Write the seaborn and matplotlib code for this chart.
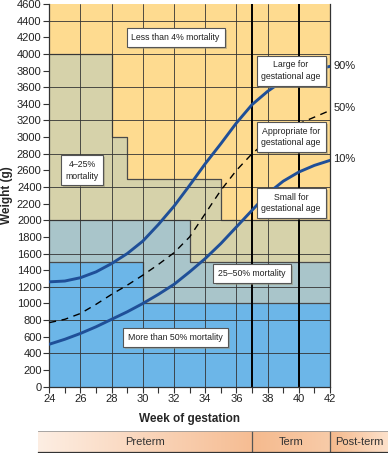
import numpy as np
import pandas as pd
import matplotlib
matplotlib.use('Agg')
import matplotlib.pyplot as plt
import matplotlib.patheffects as pe
import seaborn as sns
from matplotlib.colors import LinearSegmentedColormap

sns.set_style('white')
plt.rcParams['font.family'] = ['Liberation Sans Narrow', 'Liberation Sans', 'DejaVu Sans']

# growth percentiles, weight (g) by week of gestation
weeks = [24, 25, 26, 27, 28, 29, 30, 31, 32, 33, 34, 35, 36, 37, 38, 39, 40, 41, 42]
p90 = [1260, 1270, 1310, 1380, 1480, 1600, 1750, 1950, 2170, 2420, 2680, 2920, 3170, 3390, 3550, 3680, 3760, 3810, 3850]
p50 = [770, 810, 880, 990, 1110, 1220, 1340, 1470, 1610, 1800, 2080, 2360, 2600, 2800, 2960, 3080, 3160, 3240, 3320]
p10 = [510, 570, 640, 720, 810, 900, 1000, 1110, 1230, 1380, 1540, 1720, 1920, 2120, 2320, 2470, 2580, 2660, 2720]

# mortality zones (upper boundary, stepped)
tan_weeks = [24, 28, 29, 35, 42]
tan_top = [4000, 3000, 2500, 2000, 2000]
grey_weeks = [24, 33, 42]
grey_top = [2000, 1500, 1500]
blue_weeks = [24, 30, 42]
blue_top = [1500, 1000, 1000]

zone_labels = ['Less than 4% mortality', '4\u201325%\nmortality',
               '25\u201350% mortality', 'More than 50% mortality']
zone_pos = [(32.1, 4200), (26.1, 2600), (37.0, 1360), (32.1, 590)]
size_labels = ['Large for\ngestational age', 'Appropriate for\ngestational age',
               'Small for\ngestational age']
size_pos = [(39.5, 3800), (39.5, 3000), (39.5, 2210)]
pct_labels = ['90%', '50%', '10%']
pct_y = [3850, 3350, 2735]

terms = ['Preterm', 'Term', 'Post-term']
term_edges = [23.27, 37, 42, 45.73]

curves = pd.DataFrame({'week': weeks * 3,
                       'weight': p90 + p50 + p10,
                       'pct': ['90'] * 19 + ['50'] * 19 + ['10'] * 19})

fig = plt.figure(figsize=(3.88, 4.53), dpi=100)
ax = fig.add_axes([0.127, 0.1464, 0.7235, 0.8448])

yellow = '#fedb90'
tan = '#d6d2aa'
grey = '#a9c5ca'
blue = '#6cb6e8'
edge = '#4a4a4a'

ax.set_facecolor(yellow)
ax.fill_between(tan_weeks, 0, tan_top, step='post', color=tan, lw=0, zorder=1)
ax.fill_between(grey_weeks, 0, grey_top, step='post', color=grey, lw=0, zorder=1.1)
ax.fill_between(blue_weeks, 0, blue_top, step='post', color=blue, lw=0, zorder=1.2)
for wx, top in [(tan_weeks, tan_top), (grey_weeks, grey_top), (blue_weeks, blue_top)]:
    ax.step(wx, top, where='post', color=edge, lw=0.9, zorder=2)

for gx in range(26, 42, 2):
    ax.axvline(gx, color='#333333', lw=0.6, zorder=2)
for gy in range(400, 4600, 400):
    ax.axhline(gy, color='#333333', lw=0.6, zorder=2)
for gx in [37, 40]:
    ax.axvline(gx, color='black', lw=1.4, zorder=2.5)

curve_blue = '#1f4f98'
sns.lineplot(data=curves[curves.pct == '90'], x='week', y='weight', color=curve_blue,
             lw=2.1, ax=ax, zorder=3)
sns.lineplot(data=curves[curves.pct == '10'], x='week', y='weight', color=curve_blue,
             lw=2.1, ax=ax, zorder=3)
sns.lineplot(data=curves[curves.pct == '50'], x='week', y='weight', color='black',
             lw=1.0, dashes=(5, 4), ax=ax, zorder=3)

# label boxes with a soft drop shadow
box = dict(boxstyle='square,pad=0.55', fc='white', ec='#555555', lw=0.8)
for txt, (bx, by) in zip(zone_labels + size_labels, zone_pos + size_pos):
    t = ax.text(bx, by, txt, ha='center', va='center', fontsize=6.3, color='#222222',
                bbox=box, zorder=5, linespacing=1.35)
    t.get_bbox_patch().set_path_effects(
        [pe.SimplePatchShadow(offset=(1.5, -1.5), shadow_rgbFace='#9a9478', alpha=0.5),
         pe.Normal()])
for txt, py in zip(pct_labels, pct_y):
    ax.text(42.2, py, txt, ha='left', va='center', fontsize=8, color='#222222',
            clip_on=False)

ax.set_xlim(24, 42)
ax.set_ylim(0, 4600)
ax.set_xticks(range(24, 43, 2))
ax.set_xticks(range(24, 43, 1), minor=True)
ax.set_yticks(range(0, 4601, 200))
ax.tick_params(axis='both', which='both', direction='out', length=4, width=0.8,
               color='#333333', labelsize=8, labelcolor='#222222', pad=1.5)
ax.tick_params(axis='x', which='both', bottom=True)
ax.tick_params(axis='y', left=True)
ax.set_xlabel('Week of gestation', fontsize=8.5, fontweight='bold', labelpad=6)
ax.set_ylabel('Weight (g)', fontsize=8.5, fontweight='bold', labelpad=3)
for s in ['left', 'bottom', 'right']:
    ax.spines[s].set_color('#333333')
    ax.spines[s].set_linewidth(0.9)
ax.spines['top'].set_visible(False)
ax.grid(False)

# term band
bax = fig.add_axes([0.098, 0.0022, 0.902, 0.046])
grads = [('#fdeee3', '#f6bd93'), ('#f5ba8e', '#f8cba8'), ('#f5b98c', '#fde2cc')]
grad = np.linspace(0, 1, 256).reshape(1, -1)
for i, (c0, c1) in enumerate(grads):
    cmap = LinearSegmentedColormap.from_list('g%d' % i, [c0, c1])
    bax.imshow(grad, cmap=cmap, aspect='auto',
               extent=[term_edges[i], term_edges[i + 1], 0, 1], zorder=1)
    bax.text((term_edges[i] + term_edges[i + 1]) / 2, 0.5, terms[i], ha='center',
             va='center', fontsize=8, color='#333333', zorder=3)
for e in term_edges[1:3]:
    bax.axvline(e, color='#555555', lw=0.9, zorder=2)
bax.set_xlim(term_edges[0], term_edges[-1])
bax.set_ylim(0, 1)
bax.set_xticks([])
bax.set_yticks([])
for s in ['left', 'right']:
    bax.spines[s].set_visible(False)
bax.spines['top'].set_color('#999999')
bax.spines['top'].set_linewidth(0.6)
bax.spines['bottom'].set_color('#333333')
bax.spines['bottom'].set_linewidth(0.9)

fig.savefig('out.png', dpi=100)
